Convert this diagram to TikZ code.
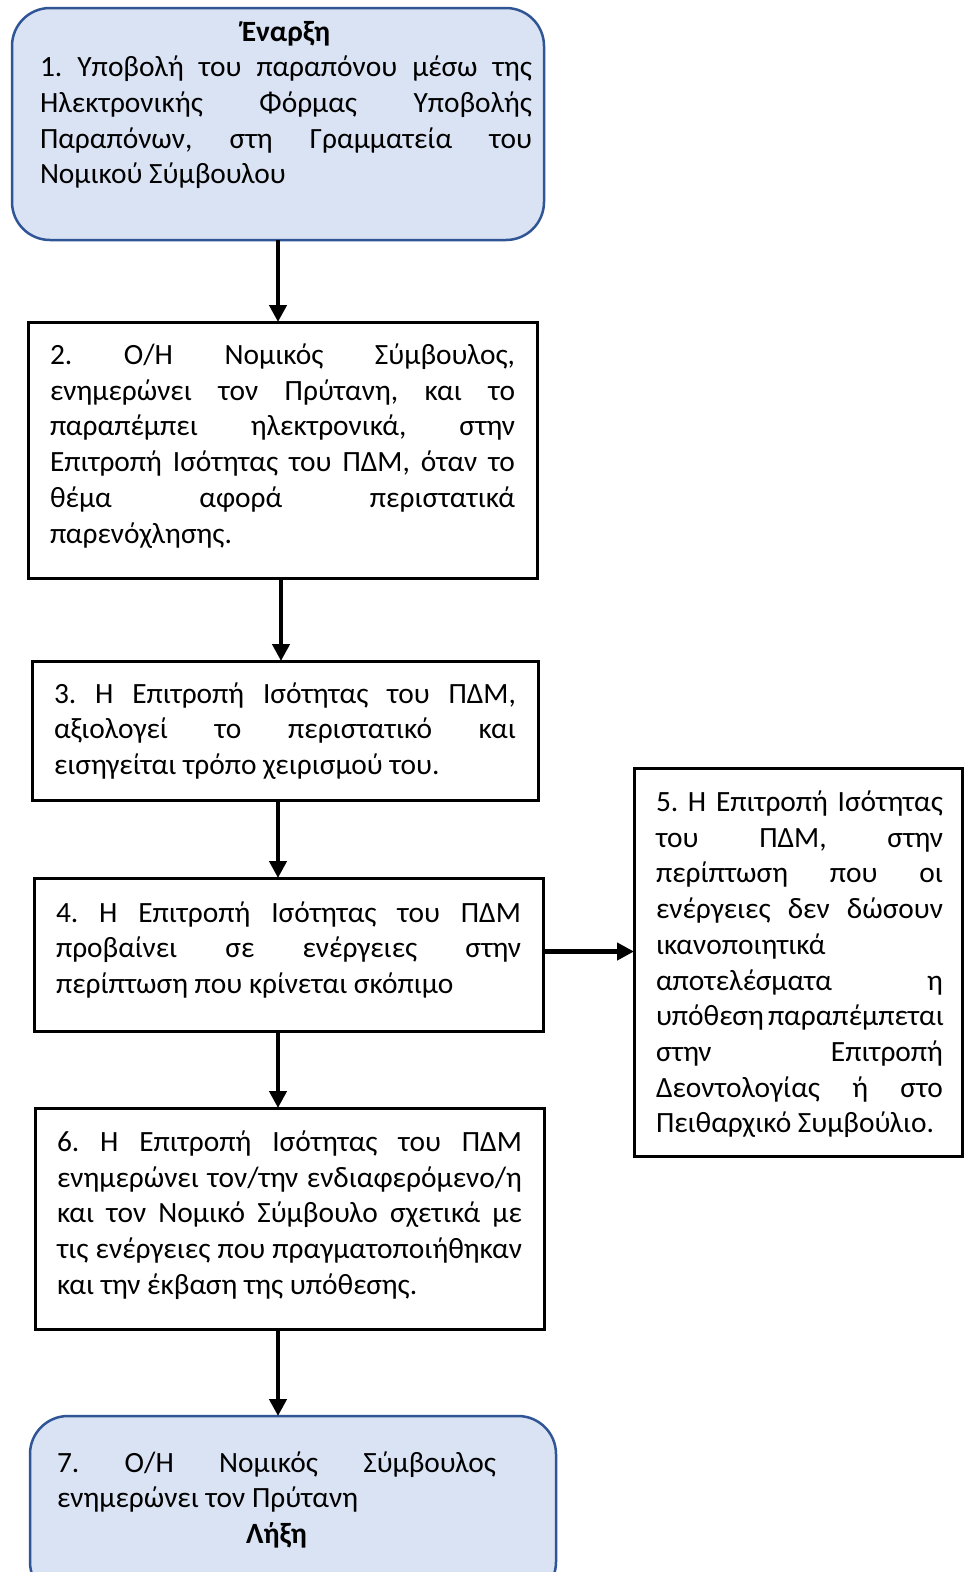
\documentclass[tikz,border=0pt]{standalone}
\usepackage{fontspec}
\setmainfont{Carlito}
\usetikzlibrary{arrows.meta}
\definecolor{termfill}{HTML}{DAE3F3}
\definecolor{termline}{HTML}{2F5597}
\newcommand\jl[2]{\makebox[#1][s]{#2}}
\newcommand\fstrut{\vrule height 26pt width 0pt}
\frenchspacing
\begin{document}
\begin{tikzpicture}[x=1pt,y=-1pt,
  every node/.style={inner sep=0pt, outer sep=0pt},
  termbox/.style={draw=termline, fill=termfill, line width=2.5pt, rounded corners=38pt, rectangle},
  stepbox/.style={draw=black, line width=3pt, rectangle},
  txt/.style={anchor=north west, align=left, font=\fontsize{29.4pt}{35.7pt}\selectfont\frenchspacing},
  arr/.style={line width=4.5pt, -{Triangle[width=17pt,length=17pt]}}]
\useasboundingbox (0,0) rectangle (965,1572);
\clip (0,0) rectangle (965,1572);
\fill[white] (0,0) rectangle (965,1572);

% boxes
\node[termbox, minimum width=532, minimum height=232] (b1) at (278,124) {};
\node[stepbox, minimum width=509, minimum height=256] (b2) at (282.5,450) {};
\node[stepbox, minimum width=506, minimum height=139] (b3) at (285,730.5) {};
\node[stepbox, minimum width=509, minimum height=153] (b4) at (288.5,954.5) {};
\node[stepbox, minimum width=328, minimum height=388] (b5) at (798,962) {};
\node[stepbox, minimum width=509, minimum height=221] (b6) at (289.5,1218.5) {};
\node[termbox, minimum width=526, minimum height=184] (b7) at (293,1508) {};

% texts
\node[txt] (t1) at (40,15) {\fstrut\makebox[492pt]{\bfseries Έναρξη}\\
\jl{492pt}{1. Υποβολή του παραπόνου μέσω της}\\
\jl{492pt}{Ηλεκτρονικής Φόρμας Υποβολής}\\
\jl{492pt}{Παραπόνων, στη Γραμματεία του}\\
Νομικού Σύμβουλου};

\node[txt] (t2) at (50,338.5) {\fstrut\jl{465pt}{2. Ο/Η Νομικός Σύμβουλος,}\\
\jl{465pt}{ενημερώνει τον Πρύτανη, και το}\\
\jl{465pt}{παραπέμπει ηλεκτρονικά, στην}\\
\jl{465pt}{Επιτροπή Ισότητας του ΠΔΜ, όταν το}\\
\jl{465pt}{θέμα αφορά περιστατικά}\\
παρενόχλησης.};

\node[txt] (t3) at (54,677) {\fstrut\jl{462pt}{3. Η Επιτροπή Ισότητας του ΠΔΜ,}\\
\jl{462pt}{αξιολογεί το περιστατικό και}\\
εισηγείται τρόπο χειρισμού του.};

\node[txt] (t4) at (56,896) {\fstrut\jl{465pt}{4. Η Επιτροπή Ισότητας του ΠΔΜ}\\
\jl{465pt}{προβαίνει σε ενέργειες στην}\\
περίπτωση που κρίνεται σκόπιμο};

\node[txt] (t5) at (656,785.5) {\fstrut\jl{287pt}{5. Η Επιτροπή Ισότητας}\\
\jl{287pt}{του ΠΔΜ, στην}\\
\jl{287pt}{περίπτωση που οι}\\
\jl{287pt}{ενέργειες δεν δώσουν}\\
ικανοποιητικά\\
\jl{287pt}{αποτελέσματα η}\\
\jl{287pt}{υπόθεση παραπέμπεται}\\
\jl{287pt}{στην Επιτροπή}\\
\jl{287pt}{Δεοντολογίας ή στο}\\
Πειθαρχικό Συμβούλιο.};

\node[txt] (t6) at (57,1125.5) {\fstrut\jl{465pt}{6. Η Επιτροπή Ισότητας του ΠΔΜ}\\
\jl{465pt}{ενημερώνει τον/την ενδιαφερόμενο/η}\\
\jl{465pt}{και τον Νομικό Σύμβουλο σχετικά με}\\
\jl{465pt}{τις ενέργειες που πραγματοποιήθηκαν}\\
και την έκβαση της υπόθεσης.};

\node[txt] (t7) at (57,1446) {\fstrut\jl{439pt}{7. Ο/Η Νομικός Σύμβουλος}\\
ενημερώνει τον Πρύτανη\\
\makebox[439pt]{\bfseries Λήξη}};

% connectors
\draw[arr] (b1.south) -- (b1.south |- b2.north);
\draw[arr] ([xshift=-1.5pt]b2.south) -- ([xshift=-1.5pt]b2.south |- b3.north);
\draw[arr] ([xshift=-7pt]b3.south) -- ([xshift=-7pt]b3.south |- b4.north);
\draw[arr] ([xshift=-10.5pt]b4.south) -- ([xshift=-10.5pt]b4.south |- b6.north);
\draw[arr] ([xshift=-11.5pt]b6.south) -- ([xshift=-11.5pt]b6.south |- b7.north);
\draw[arr] ([yshift=3pt]b4.east) -- ([yshift=3pt]b4.east -| b5.west);
\end{tikzpicture}
\end{document}
